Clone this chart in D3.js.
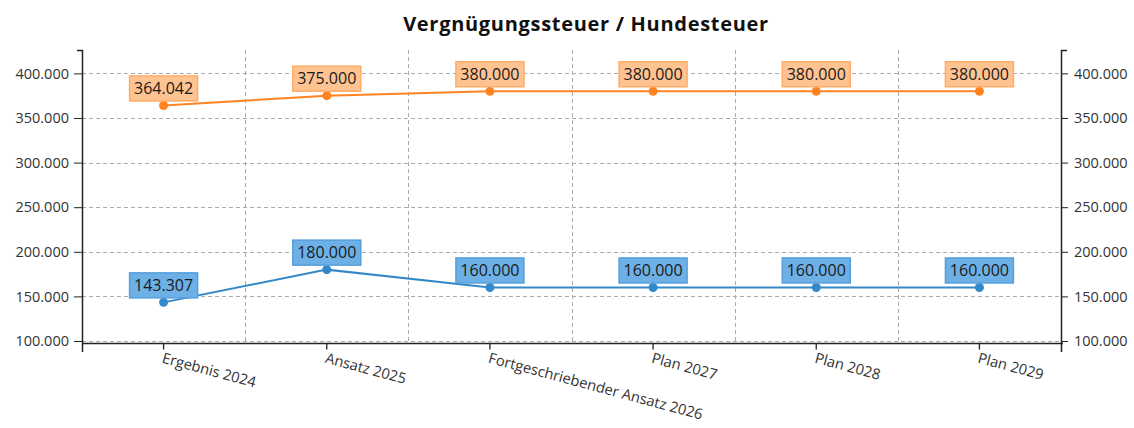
<!DOCTYPE html>
<html>
<head>
<meta charset="utf-8">
<script src="https://cdn.jsdelivr.net/npm/d3@7"></script>
<style>
  body { margin: 0; background: #fff; }
  text { font-family: "Open Sans", "Noto Sans", sans-serif; }
</style>
</head>
<body>
<div id="vis"></div>
<script>
var categories = ["Ergebnis 2024", "Ansatz 2025", "Fortgeschriebender Ansatz 2026", "Plan 2027", "Plan 2028", "Plan 2029"];
var vergnuegung = [364042, 375000, 380000, 380000, 380000, 380000];
var hunde = [143307, 180000, 160000, 160000, 160000, 160000];
var yTicks = [100000, 150000, 200000, 250000, 300000, 350000, 400000];

var W = 1134, H = 428;
var plot = { left: 82, right: 1061, top: 50, bottom: 343.5 };

var fmt = function (v) {
    return d3.format(",")(v).replace(/,/g, ".");
};

var x = d3.scaleBand()
    .domain(categories)
    .range([plot.left, plot.right]);

var y = d3.scaleLinear()
    .domain([97200, 426200])
    .range([plot.bottom, plot.top]);

var svg = d3.select("#vis").append("svg")
    .attr("width", W)
    .attr("height", H);

// title
svg.append("text")
    .attr("x", 586)
    .attr("y", 31)
    .attr("text-anchor", "middle")
    .style("font-size", "20px")
    .style("font-weight", "bold")
    .style("letter-spacing", "0.7px")
    .attr("fill", "#111")
    .text("Vergnügungssteuer / Hundesteuer");

// grid
var grid = svg.append("g").attr("stroke", "#aaa").attr("stroke-dasharray", "4,3");
grid.selectAll("line.h").data(yTicks).enter().append("line")
    .attr("x1", plot.left).attr("x2", plot.right)
    .attr("y1", d => Math.round(y(d)) + 0.5).attr("y2", d => Math.round(y(d)) + 0.5);
grid.selectAll("line.v").data(categories.slice(1)).enter().append("line")
    .attr("y1", plot.top).attr("y2", plot.bottom)
    .attr("x1", d => Math.round(x(d)) + 0.5).attr("x2", d => Math.round(x(d)) + 0.5);

// y axes
var yLeft = d3.axisLeft(y).tickValues(yTicks).tickFormat(fmt).tickSize(8).tickPadding(5);
var yRight = d3.axisRight(y).tickValues(yTicks).tickFormat(fmt).tickSize(7).tickPadding(6);

var gl = svg.append("g").attr("transform", "translate(" + plot.left + ",0)").call(yLeft);
var gr = svg.append("g").attr("transform", "translate(" + plot.right + ",0)").call(yRight);
[gl, gr].forEach(function (g) {
    g.select(".domain").remove();
    g.selectAll("line").attr("stroke", "#222");
    g.selectAll("text").style("font-size", "14.5px").attr("fill", "#333");
});
svg.append("path")
    .attr("d", "M" + (plot.left - 5) + "," + (plot.top + 0.5) + "H" + (plot.left + 0.5) + "V" + 352)
    .attr("fill", "none").attr("stroke", "#222").attr("stroke-width", 1.5);
svg.append("path")
    .attr("d", "M" + (plot.right + 6) + "," + (plot.top + 0.5) + "H" + (plot.right + 0.5) + "V" + 352)
    .attr("fill", "none").attr("stroke", "#222").attr("stroke-width", 1.5);

// x axis
var xAxis = d3.axisBottom(x).tickSize(6).tickFormat("");
var gx = svg.append("g").attr("transform", "translate(0," + plot.bottom + ")").call(xAxis);
gx.select(".domain").remove();
gx.selectAll("line").attr("stroke", "#222").attr("stroke-width", 1.3);
svg.append("line")
    .attr("x1", plot.left).attr("x2", plot.right + 2)
    .attr("y1", plot.bottom).attr("y2", plot.bottom)
    .attr("stroke", "#222").attr("stroke-width", 1.5);

svg.append("g").selectAll("text").data(categories).enter().append("text")
    .attr("transform", d => "translate(" + (x(d) + x.bandwidth() / 2 - 1) + "," + (plot.bottom + 14) + ") rotate(15)")
    .attr("dy", "0.35em")
    .style("font-size", "14.7px")
    .attr("fill", "#333")
    .text(d => d);

// series
var series = [
    { values: vergnuegung, line: "#ff8320", fill: "#ffc392", border: "#ffac66" },
    { values: hunde, line: "#3388c8", fill: "#6cb0e6", border: "#559fdc" }
];

var line = d3.line()
    .x((d, i) => x(categories[i]) + x.bandwidth() / 2)
    .y(d => y(d));

series.forEach(function (s) {
    var g = svg.append("g");
    g.append("path")
        .attr("d", line(s.values))
        .attr("fill", "none")
        .attr("stroke", s.line)
        .attr("stroke-width", 2);
    g.selectAll("circle").data(s.values).enter().append("circle")
        .attr("cx", (d, i) => x(categories[i]) + x.bandwidth() / 2)
        .attr("cy", d => y(d))
        .attr("r", 4.5)
        .attr("fill", s.line);

    var lab = g.selectAll("g.lab").data(s.values).enter().append("g")
        .attr("transform", (d, i) => "translate(" + (x(categories[i]) + x.bandwidth() / 2) + "," + (y(d) - 17) + ")");
    lab.append("rect")
        .attr("x", -34).attr("y", -12.5)
        .attr("width", 68).attr("height", 25)
        .attr("fill", s.fill)
        .attr("stroke", s.border)
        .attr("stroke-width", 1.5);
    lab.append("text")
        .attr("text-anchor", "middle")
        .attr("dy", "0.36em")
        .style("font-size", "16px")
        .attr("fill", "#1a1a1a")
        .text(d => fmt(d));
});
</script>
</body>
</html>
